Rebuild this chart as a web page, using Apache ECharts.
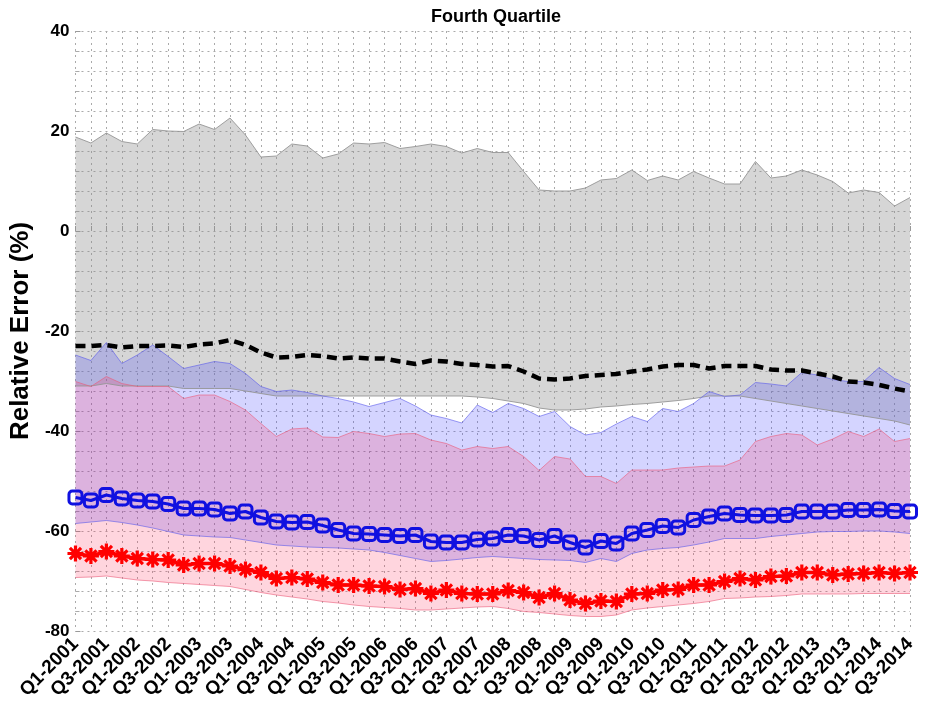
<!DOCTYPE html>
<html>
<head>
<meta charset="utf-8">
<script src="https://cdn.jsdelivr.net/npm/echarts@6/dist/echarts.min.js"></script>
<style>
    html, body { margin: 0; padding: 0; background: #fff; }
    #chart { width: 925px; height: 711px; }
</style>
</head>
<body>
<div id="chart"></div>
<script>
    // quarters Q1-2001 .. Q3-2014
    var quarters = [];
    for (var y = 2001; y <= 2014; y++) {
        for (var q = 1; q <= 4; q++) {
            if (y === 2014 && q > 3) break;
            quarters.push('Q' + q + '-' + y);
        }
    }

    // gray envelope
    var grayHi = [18.8, 17.6, 19.6, 17.9, 17.4, 20.3, 20.0, 19.9, 21.4, 20.3,
        22.6, 19.2, 14.8, 15.0, 17.4, 17.0, 14.6, 15.4, 17.6, 17.4,
        17.7, 16.5, 16.9, 17.4, 16.9, 15.6, 16.5, 15.7, 15.7, 11.9,
        8.2, 8.0, 8.0, 8.6, 10.2, 10.5, 12.2, 10.1, 11.0, 10.2,
        11.9, 10.6, 9.4, 9.4, 13.9, 10.6, 11.0, 12.2, 11.2, 9.9,
        7.6, 8.2, 7.7, 5.0, 6.7];
    var grayLo = [-31, -31, -30.5, -31, -31, -31, -31, -31.5, -31.5, -31.5,
        -31.5, -32, -32.5, -33, -33, -33, -33, -33, -33, -33,
        -33, -33, -33, -33, -33, -33, -33.2, -33.5, -34, -34.5,
        -35.4, -35.8, -35.8, -35.6, -35.2, -35, -34.7, -34.5, -34.2, -33.9,
        -33.5, -33, -33, -33, -33.5, -34, -34.5, -35, -35.5, -36,
        -36.5, -37, -37.5, -38, -38.8];

    // blue envelope
    var blueHi = [-24.8, -25.9, -22.3, -26.5, -24.8, -22.8, -25.1, -27.5, -26.8, -26.1,
        -26.5, -28.5, -31.1, -32.1, -31.8, -32.3, -33.0, -33.5, -34.2, -35.1,
        -34.3, -33.5, -35.0, -36.8, -37.5, -38.4, -34.8, -36.3, -34.5, -35.5,
        -37.1, -36.1, -39.1, -40.8, -40.3, -38.6, -37.1, -38.1, -35.5, -36.1,
        -34.5, -32.1, -33.1, -32.8, -30.3, -30.6, -31.0, -28.3, -28.8, -29.7,
        -30.1, -30.1, -27.3, -29.5, -30.7];
    var blueLo = [-58.5, -58.2, -57.9, -58.3, -58.8, -59.4, -60.1, -60.8, -61, -61.2,
        -61.3, -61.8, -62.3, -62.8, -63, -63.2, -63.3, -63.4, -63.6, -63.8,
        -64.3, -64.9, -65.5, -66.1, -65.9, -65.6, -65.3, -65.1, -65.3, -65.5,
        -65.7, -65.8, -65.9, -66.3, -65.5, -66.1, -64.5, -63.8, -63.5, -63.3,
        -62.8, -62.2, -61.5, -61.5, -61.5, -61.1, -60.8, -60.5, -60.2, -60.1,
        -60.1, -60.0, -60.0, -60.2, -60.5];

    // pink envelope
    var pinkHi = [-30.1, -31.1, -29.1, -30.5, -31.1, -31.1, -31.1, -33.5, -32.8, -32.8,
        -34.1, -35.8, -38.5, -41.1, -39.6, -39.4, -41.2, -41.3, -40.1, -40.5,
        -41.1, -40.6, -40.5, -41.8, -42.5, -43.8, -43.1, -43.5, -43.1, -45.1,
        -47.9, -45.1, -45.6, -49.1, -49.1, -50.5, -47.8, -47.8, -47.8, -47.4,
        -47.2, -47.0, -47.0, -45.8, -42.1, -41.1, -40.5, -40.8, -42.8, -41.6,
        -40.1, -41.1, -39.6, -42.1, -41.5];
    var pinkLo = [-69.3, -69.2, -69, -69.4, -69.8, -70, -70.3, -70.5, -70.7, -70.9,
        -71.1, -71.7, -72.3, -72.8, -73.2, -73.6, -74.1, -74.4, -74.8, -75.1,
        -75.3, -75.5, -75.8, -75.8, -75.6, -75.4, -75.2, -75.1, -75.5, -76.1,
        -76.3, -76.6, -76.9, -77.1, -77.1, -76.8, -75.8, -75.4, -75.1, -74.8,
        -74.5, -74.1, -73.5, -73.4, -73.2, -73.1, -72.9, -72.6, -72.6, -72.6,
        -72.6, -72.5, -72.5, -72.5, -72.5];

    // lines
    var dashedLine = [-23, -23, -22.8, -23.3, -23, -23, -22.9, -23.2, -22.7, -22.5,
        -21.8, -22.8, -24.3, -25.3, -25.2, -24.8, -25, -25.5, -25.3, -25.5,
        -25.5, -26.1, -26.6, -25.9, -26.1, -26.6, -26.8, -27.1, -27, -28.1,
        -29.5, -29.7, -29.5, -29, -28.8, -28.6, -28.1, -27.7, -27.1, -26.8,
        -26.8, -27.5, -27, -27, -27, -27.7, -27.9, -27.9, -28.5, -29.1,
        -30.1, -30.3, -30.8, -31.5, -32.1];
    var blueSquares = [-53.3, -53.9, -52.8, -53.5, -53.9, -54.1, -54.6, -55.5, -55.5, -55.7,
        -56.5, -56.1, -57.3, -58.1, -58.3, -58.2, -58.9, -59.8, -60.5, -60.6,
        -60.8, -61, -60.8, -62.1, -62.3, -62.3, -61.7, -61.5, -60.8, -61,
        -61.8, -61, -62.3, -63.3, -62, -62.5, -60.5, -59.8, -59, -59.3,
        -57.8, -57.1, -56.5, -56.8, -56.9, -56.9, -56.8, -56.1, -56.1, -56.1,
        -55.8, -55.8, -55.7, -56, -56.1];
    var redStars = [-64.5, -65, -64.1, -65, -65.5, -65.7, -65.8, -66.8, -66.5, -66.5,
        -67, -67.7, -68.3, -69.5, -69.3, -69.6, -70.3, -70.8, -70.8, -71,
        -71.1, -71.7, -71.5, -72.5, -71.8, -72.5, -72.6, -72.6, -71.9, -72.3,
        -73.3, -72.5, -73.8, -74.5, -74, -74.1, -72.6, -72.5, -71.8, -71.7,
        -70.8, -70.8, -70.1, -69.5, -69.8, -69.1, -69, -68.3, -68.3, -68.8,
        -68.6, -68.5, -68.3, -68.5, -68.3];

    // asterisk marker: vertical, horizontal and two diagonal bars
    var starPath = 'path://M-1,-5L1,-5L1,5L-1,5Z' +
        'M-5,-1L5,-1L5,1L-5,1Z' +
        'M-2.8,-4.2L4.2,2.8L2.8,4.2L-4.2,-2.8Z' +
        'M-4.2,2.8L2.8,-4.2L4.2,-2.8L-2.8,4.2Z';

    function band(name, lo, hi, fill, edge) {
        var diff = hi.map(function (v, i) { return +(v - lo[i]).toFixed(2); });
        return [
            {
                name: name + '-lo',
                type: 'line',
                stack: name,
                stackStrategy: 'all',
                symbol: 'none',
                silent: true,
                lineStyle: {width: 1, color: edge},
                data: lo
            },
            {
                name: name + '-hi',
                type: 'line',
                stack: name,
                stackStrategy: 'all',
                symbol: 'none',
                silent: true,
                lineStyle: {width: 1, color: edge},
                areaStyle: {color: fill, opacity: 1},
                data: diff
            }
        ];
    }

    var chart = echarts.init(document.getElementById('chart'));

    var series = []
        .concat(band('gray', grayLo, grayHi, 'rgba(140,140,140,0.36)', 'rgba(150,150,150,0.9)'))
        .concat(band('blue', blueLo, blueHi, 'rgba(50,50,255,0.21)', 'rgba(90,90,235,0.6)'))
        .concat(band('pink', pinkLo, pinkHi, 'rgba(255,30,80,0.19)', 'rgba(235,90,120,0.6)'))
        .concat([
            {
                name: 'median',
                type: 'line',
                symbol: 'none',
                lineStyle: {color: '#000', width: 4.5, type: [10, 6]},
                data: dashedLine
            },
            {
                name: 'blue',
                type: 'line',
                symbol: 'roundRect',
                symbolSize: 13,
                showAllSymbol: true,
                lineStyle: {color: '#1010e0', width: 3},
                itemStyle: {color: 'rgba(0,0,0,0)', borderColor: '#1010e0', borderWidth: 3},
                data: blueSquares
            },
            {
                name: 'red',
                type: 'line',
                symbol: starPath,
                symbolSize: 16,
                showAllSymbol: true,
                lineStyle: {color: '#f00', width: 3.5},
                itemStyle: {color: '#f00'},
                data: redStars
            }
        ]);

    chart.setOption({
        animation: false,
        backgroundColor: '#fff',
        title: {
            text: 'Fourth Quartile',
            left: 491,
            textAlign: 'center',
            top: 3,
            textStyle: {
                fontFamily: 'Liberation Sans',
                fontWeight: 'bold',
                fontSize: 18,
                color: '#000'
            }
        },
        grid: {
            left: 73,
            right: 15,
            top: 31,
            bottom: 80
        },
        xAxis: {
            type: 'category',
            boundaryGap: false,
            data: quarters,
            axisLine: {show: false},
            axisTick: {
                show: true,
                inside: true,
                interval: 0,
                length: 5,
                lineStyle: {color: '#999'}
            },
            splitLine: {
                show: true,
                interval: 0,
                lineStyle: {color: '#aaa', type: [2, 4], width: 1}
            },
            axisLabel: {
                interval: 1,
                rotate: 45,
                margin: 10,
                fontFamily: 'Liberation Sans',
                fontWeight: 'bold',
                fontSize: 19,
                color: '#000'
            }
        },
        yAxis: {
            type: 'value',
            min: -80,
            max: 40,
            interval: 20,
            name: 'Relative Error (%)',
            nameLocation: 'middle',
            nameGap: 36,
            nameTextStyle: {
                fontFamily: 'Liberation Sans',
                fontWeight: 'bold',
                fontSize: 26,
                color: '#000'
            },
            axisLine: {show: false},
            axisTick: {show: true, inside: true, length: 5, lineStyle: {color: '#999'}},
            minorTick: {show: true, splitNumber: 5, length: 4, lineStyle: {color: '#aaa'}},
            splitLine: {lineStyle: {color: '#aaa', type: [2, 4], width: 1}},
            minorSplitLine: {show: true, lineStyle: {color: '#aaa', type: [2, 4], width: 1}},
            axisLabel: {
                margin: 6,
                fontFamily: 'Liberation Sans',
                fontWeight: 'bold',
                fontSize: 17,
                color: '#000'
            }
        },
        series: series
    });
</script>
</body>
</html>
